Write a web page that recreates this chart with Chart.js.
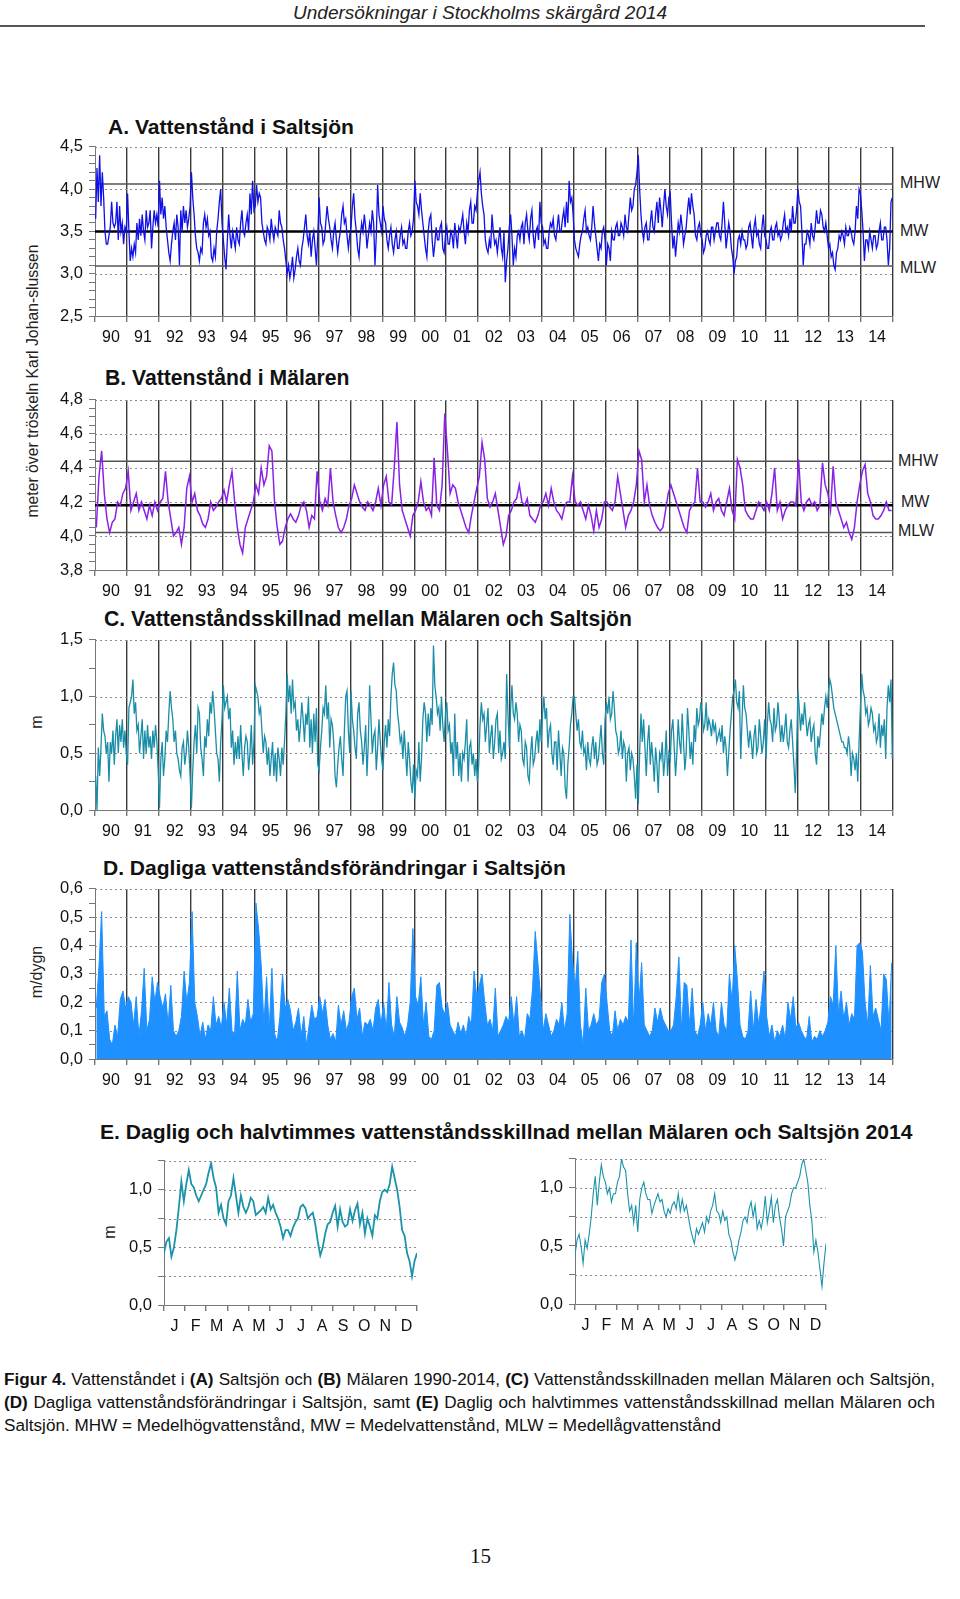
<!DOCTYPE html>
<html>
<head>
<meta charset="utf-8">
<script src="https://cdn.jsdelivr.net/npm/chart.js@4.4.1/dist/chart.umd.min.js"></script>
<style>
  body { margin: 0; background: #fff; width: 960px; height: 1599px; position: relative; overflow: hidden;
         font-family: "Liberation Sans", Arial, sans-serif; color: #111; }
  canvas { position: absolute; left: 0; }
  .t { position: absolute; white-space: nowrap; transform: translateY(-50%); line-height: 1; }
  .title { font-weight: bold; font-size: 21px; }
  .ref { font-size: 16px; color: #222; }
  .rot { position: absolute; white-space: nowrap; font-size: 16px; color: #222; line-height: 1;
         transform: translate(-50%, -50%) rotate(-90deg); }
  .cap { position: absolute; left: 4px; font-size: 16px; line-height: 1; white-space: nowrap; }
</style>
</head>
<body>

<div class="t" id="hdr" style="left:0;top:13px;font-style:italic;font-size:17px;color:#222;">Undersökningar i Stockholms skärgård 2014</div>
<div style="position:absolute;left:0;top:25px;width:925px;height:2px;background:#555;"></div>

<div class="t title" id="tA" style="left:108px;top:127px;">A. Vattenstånd i Saltsjön</div>
<div class="t title" id="tB" style="left:105px;top:378px;">B. Vattenstånd i Mälaren</div>
<div class="t title" id="tC" style="left:104px;top:619px;">C. Vattenståndsskillnad mellan Mälaren och Saltsjön</div>
<div class="t title" id="tD" style="left:103px;top:868px;">D. Dagliga vattenståndsförändringar i Saltsjön</div>
<div class="t title" id="tE" style="left:100px;top:1132px;">E. Daglig och halvtimmes vattenståndsskillnad mellan Mälaren och Saltsjön 2014</div>

<div class="rot" id="yAB" style="left:33px;top:381px;">meter över tröskeln Karl Johan-slussen</div>
<div class="rot" style="left:37px;top:722px;">m</div>
<div class="rot" style="left:37px;top:972px;">m/dygn</div>
<div class="rot" style="left:110px;top:1232px;">m</div>

<div class="t ref" style="left:900px;top:183px;">MHW</div>
<div class="t ref" style="left:900px;top:231px;">MW</div>
<div class="t ref" style="left:900px;top:268px;">MLW</div>
<div class="t ref" style="left:898px;top:461px;">MHW</div>
<div class="t ref" style="left:901px;top:502px;">MW</div>
<div class="t ref" style="left:898px;top:531px;">MLW</div>

<canvas id="cA"></canvas>
<canvas id="cB"></canvas>
<canvas id="cC"></canvas>
<canvas id="cD"></canvas>
<canvas id="cE1"></canvas>
<canvas id="cE2"></canvas>

<div class="cap" id="cap1" style="top:1371px;"><span><b>Figur 4.</b> Vattenståndet i <b>(A)</b> Saltsjön och <b>(B)</b> Mälaren 1990-2014, <b>(C)</b> Vattenståndsskillnaden mellan Mälaren och Saltsjön,</span></div>
<div class="cap" id="cap2" style="top:1394px;"><span><b>(D)</b> Dagliga vattenståndsförändringar i Saltsjön, samt <b>(E)</b> Daglig och halvtimmes vattenståndsskillnad mellan Mälaren och</span></div>
<div class="cap" id="cap3" style="top:1417px;"><span>Saltsjön. MHW = Medelhögvattenstånd, MW = Medelvattenstånd, MLW = Medellågvattenstånd</span></div>

<div class="t" style="left:470px;top:1556px;font-family:'Liberation Serif',serif;font-size:21px;">15</div>

<script>
// ---- data ----
const yearLabels = ['90','91','92','93','94','95','96','97','98','99','00','01','02','03','04','05','06','07','08','09','10','11','12','13','14'];
const monthLabels = ['J','F','M','A','M','J','J','A','S','O','N','D'];

// A. Vattenstånd i Saltsjön (m), two values per month
const saltsjon = [
  3.65, 4.25, 3.85, 4.4, 3.8, 4.2, 3.9, 3.5, 3.35, 3.35, 3.45, 3.55, 3.85, 3.6, 3.55, 3.6, 3.85, 3.4, 3.8, 3.5, 3.6, 3.35, 3.55, 3.5,
  3.95, 3.5, 3.15, 3.3, 3.2, 3.35, 3.25, 3.6, 3.4, 3.65, 3.45, 3.7, 3.5, 3.4, 3.75, 3.55, 3.6, 3.75, 3.3, 3.55, 3.75, 3.6, 3.7, 3.55,
  4.1, 3.7, 3.9, 3.65, 3.8, 3.55, 3.4, 3.25, 3.15, 3.35, 3.5, 3.6, 3.4, 3.7, 3.55, 3.1, 3.75, 3.5, 3.8, 3.6, 3.75, 3.55, 3.65, 3.8,
  4.2, 3.9, 3.7, 3.45, 3.3, 3.25, 3.15, 3.3, 3.25, 3.6, 3.7, 3.55, 3.65, 3.45, 3.5, 3.2, 3.15, 3.3, 3.2, 3.5, 3.65, 3.85, 4.0, 3.6,
  3.4, 3.2, 3.05, 3.4, 3.7, 3.45, 3.3, 3.5, 3.4, 3.3, 3.55, 3.4, 3.35, 3.6, 3.75, 3.5, 3.45, 3.6, 3.7, 3.5, 3.95, 3.7, 4.1, 3.75,
  3.8, 4.05, 3.85, 3.95, 3.9, 3.6, 3.5, 3.4, 3.35, 3.55, 3.5, 3.4, 3.65, 3.5, 3.4, 3.55, 3.5, 3.45, 3.75, 3.6, 3.55, 3.4, 3.3, 3.15,
  3.0, 3.1, 2.95, 3.05, 3.2, 2.95, 3.05, 3.2, 3.3, 3.15, 3.1, 3.3, 3.4, 3.55, 3.7, 3.45, 3.35, 3.5, 3.2, 3.4, 3.5, 3.3, 3.1, 3.45,
  3.9, 3.6, 3.55, 3.35, 3.4, 3.6, 3.8, 3.65, 3.55, 3.4, 3.3, 3.5, 3.6, 3.4, 3.25, 3.4, 3.5, 3.7, 3.8, 3.6, 3.65, 3.45, 3.3, 3.45,
  3.55, 3.8, 3.95, 3.65, 3.5, 3.3, 3.2, 3.45, 3.6, 3.5, 3.7, 3.55, 3.3, 3.45, 3.6, 3.5, 3.75, 3.6, 3.1, 3.45, 4.05, 3.7, 3.6, 3.5,
  3.8, 3.65, 3.6, 3.4, 3.3, 3.45, 3.55, 3.35, 3.25, 3.4, 3.5, 3.3, 3.3, 3.45, 3.55, 3.35, 3.4, 3.3, 3.3, 3.5, 3.6, 3.45, 3.5, 3.65,
  4.1, 3.85, 3.8, 3.7, 3.95, 3.75, 3.6, 3.45, 3.3, 3.2, 3.5, 3.65, 3.7, 3.4, 3.2, 3.35, 3.55, 3.4, 3.4, 3.55, 3.6, 3.3, 3.25, 3.45,
  3.55, 3.35, 3.35, 3.5, 3.45, 3.3, 3.6, 3.45, 3.3, 3.55, 3.5, 3.6, 3.7, 3.5, 3.35, 3.6, 3.5, 3.75, 3.85, 3.6, 3.6, 3.8, 3.75, 3.95,
  4.1, 4.2, 3.95, 3.8, 3.7, 3.4, 3.3, 3.25, 3.4, 3.3, 3.7, 3.5, 3.35, 3.4, 3.25, 3.4, 3.55, 3.3, 3.2, 3.5, 2.9, 3.15, 3.3, 3.55,
  3.7, 3.45, 3.1, 3.3, 3.2, 3.45, 3.5, 3.4, 3.55, 3.6, 3.35, 3.6, 3.7, 3.5, 3.4, 3.65, 3.75, 3.45, 3.3, 3.5, 3.55, 3.4, 3.85, 3.6,
  3.55, 3.35, 3.4, 3.3, 3.3, 3.5, 3.6, 3.55, 3.65, 3.45, 3.4, 3.55, 3.7, 3.5, 3.5, 3.65, 3.75, 3.55, 3.85, 3.6, 4.1, 3.85, 3.9, 3.7,
  3.4, 3.3, 3.25, 3.2, 3.35, 3.45, 3.5, 3.65, 3.75, 3.5, 3.55, 3.45, 3.4, 3.55, 3.8, 3.6, 3.45, 3.3, 3.15, 3.35, 3.3, 3.5, 3.55, 3.4,
  3.1, 3.35, 3.3, 3.15, 3.5, 3.4, 3.4, 3.55, 3.6, 3.45, 3.45, 3.6, 3.55, 3.45, 3.7, 3.55, 3.5, 3.7, 3.9, 3.75, 3.8, 4.0, 4.05, 4.2,
  4.4, 4.0, 3.7, 3.5, 3.4, 3.55, 3.6, 3.4, 3.4, 3.6, 3.75, 3.55, 3.5, 3.7, 3.85, 3.6, 3.9, 3.75, 3.55, 3.8, 4.0, 3.8, 3.7, 3.9,
  3.95, 3.6, 3.3, 3.45, 3.2, 3.4, 3.6, 3.5, 3.7, 3.55, 3.35, 3.45, 3.55, 3.75, 3.9, 3.7, 3.95, 3.8, 3.7, 3.45, 3.4, 3.55, 3.6, 3.45,
  3.4, 3.25, 3.3, 3.45, 3.5, 3.4, 3.35, 3.55, 3.55, 3.4, 3.5, 3.6, 3.6, 3.45, 3.4, 3.6, 3.85, 3.6, 3.3, 3.45, 3.6, 3.5, 3.3, 3.2,
  3.0, 3.15, 3.2, 3.4, 3.45, 3.35, 3.5, 3.4, 3.4, 3.3, 3.35, 3.55, 3.6, 3.45, 3.3, 3.55, 3.65, 3.45, 3.5, 3.35, 3.3, 3.55, 3.7, 3.45,
  3.4, 3.3, 3.3, 3.5, 3.55, 3.4, 3.4, 3.55, 3.6, 3.45, 3.5, 3.4, 3.45, 3.6, 3.7, 3.5, 3.55, 3.45, 3.65, 3.5, 3.8, 3.6, 3.6, 3.75,
  4.0, 3.85, 3.8, 3.5, 3.1, 3.35, 3.35, 3.5, 3.45, 3.35, 3.6, 3.45, 3.4, 3.55, 3.75, 3.6, 3.6, 3.75, 3.7, 3.55, 3.5, 3.6, 3.45, 3.3,
  3.35, 3.2, 3.25, 3.1, 3.05, 3.25, 3.3, 3.45, 3.4, 3.5, 3.45, 3.35, 3.55, 3.45, 3.45, 3.55, 3.5, 3.4, 3.35, 3.5, 3.8, 3.65, 4.0, 3.95,
  3.75, 3.5, 3.15, 3.4, 3.4, 3.3, 3.5, 3.4, 3.3, 3.45, 3.45, 3.3, 3.35, 3.5, 3.6, 3.4, 3.4, 3.55, 3.55, 3.4, 3.1, 3.3, 3.85, 3.9
];
const saltsjonRefs = [4.06, 3.5, 3.09];   // MHW, MW, MLW

// B. Vattenstånd i Mälaren (m), one value per month
const malaren = [
  4.05, 4.35, 4.5, 4.25, 4.1, 4.02, 4.08, 4.1, 4.2, 4.18, 4.25, 4.28,
  4.38, 4.15, 4.2, 4.25, 4.15, 4.2, 4.15, 4.1, 4.18, 4.12, 4.2, 4.15,
  4.2, 4.22, 4.38, 4.2, 4.1, 4.0, 4.02, 4.05, 3.95, 4.05, 4.28, 4.35,
  4.2, 4.25, 4.15, 4.12, 4.07, 4.05, 4.1, 4.2, 4.15, 4.17, 4.2, 4.22,
  4.27, 4.2, 4.3, 4.38, 4.2, 4.05, 3.95, 3.9, 4.05, 4.1, 4.15, 4.2,
  4.3, 4.25, 4.4, 4.3, 4.35, 4.53, 4.5, 4.2, 4.05, 3.95, 3.97, 4.05,
  4.1, 4.13, 4.1, 4.08, 4.12, 4.18, 4.2, 4.15, 4.05, 4.12, 4.1, 4.38,
  4.2, 4.15, 4.22, 4.18, 4.4, 4.2, 4.12, 4.05, 4.02, 4.05, 4.1, 4.18,
  4.22, 4.3, 4.25, 4.2, 4.17, 4.15, 4.2, 4.18, 4.15, 4.2, 4.28, 4.18,
  4.3, 4.35, 4.2, 4.18, 4.4, 4.67, 4.3, 4.15, 4.1, 4.05, 4.0, 4.12,
  4.15, 4.2, 4.32, 4.2, 4.15, 4.17, 4.12, 4.46, 4.18, 4.15, 4.3, 4.72,
  4.5, 4.25, 4.3, 4.28, 4.2, 4.15, 4.1, 4.05, 4.02, 4.12, 4.2, 4.28,
  4.35, 4.55, 4.45, 4.22, 4.17, 4.2, 4.25, 4.15, 4.05, 3.95, 4.0, 4.12,
  4.15, 4.2, 4.22, 4.3, 4.2, 4.18, 4.22, 4.12, 4.1, 4.08, 4.12, 4.18,
  4.2, 4.25, 4.18, 4.28, 4.2, 4.15, 4.13, 4.1, 4.17, 4.2, 4.2, 4.35,
  4.2, 4.18, 4.2, 4.15, 4.1, 4.18, 4.12, 4.03, 4.15, 4.05, 4.1, 4.2,
  4.2, 4.17, 4.15, 4.2, 4.35, 4.25, 4.15, 4.05, 4.12, 4.15, 4.2, 4.3,
  4.5, 4.45, 4.2, 4.3, 4.18, 4.12, 4.08, 4.05, 4.03, 4.05, 4.15, 4.25,
  4.3, 4.25, 4.2, 4.15, 4.1, 4.05, 4.02, 4.15, 4.18, 4.2, 4.4, 4.2,
  4.2, 4.17, 4.2, 4.25, 4.15, 4.2, 4.22, 4.15, 4.12, 4.2, 4.28, 4.15,
  4.1, 4.45, 4.4, 4.3, 4.15, 4.12, 4.1, 4.1, 4.15, 4.2, 4.18, 4.15,
  4.2, 4.15, 4.25, 4.4, 4.15, 4.2, 4.1, 4.15, 4.18, 4.2, 4.2, 4.18,
  4.45, 4.2, 4.15, 4.2, 4.22, 4.18, 4.2, 4.15, 4.18, 4.43, 4.3, 4.25,
  4.15, 4.41, 4.2, 4.15, 4.1, 4.05, 4.08, 4.02, 3.98, 4.05, 4.2, 4.3,
  4.38, 4.42, 4.25, 4.2, 4.12, 4.1, 4.1, 4.12, 4.15, 4.2, 4.15, 4.15
];
const malarenRefs = [4.44, 4.18, 4.02];

// C. Vattenståndsskillnad mellan Mälaren och Saltsjön (m), two values per month
const skillnad = [
  0.3, 0.0, 0.55, 0.3, 0.55, 0.85, 0.7, 0.65, 0.5, 0.6, 0.25, 0.6, 0.5, 0.7, 0.4, 0.65, 0.8, 0.5, 0.75, 0.6, 0.8, 0.55, 0.7, 0.5,
  0.4, 0.9, 0.95, 1.0, 1.15, 0.85, 0.95, 0.7, 0.75, 0.5, 0.65, 0.8, 0.45, 0.7, 0.5, 0.75, 0.55, 0.65, 0.45, 0.7, 0.55, 0.75, 0.6, 0.35,
  0.02, 0.45, 0.6, 0.3, 0.45, 0.7, 0.6, 0.85, 1.05, 0.9, 0.8, 0.6, 0.7, 0.5, 0.45, 0.35, 0.3, 0.55, 0.6, 0.4, 0.5, 0.7, 0.55, 0.3,
  0.02, 0.35, 0.6, 0.75, 0.5, 0.9, 0.85, 0.55, 0.45, 0.3, 0.65, 0.55, 0.8, 0.65, 0.95, 0.85, 1.05, 0.9, 0.7, 0.5, 0.45, 0.25, 0.6, 0.8,
  1.1, 0.9, 0.95, 1.0, 0.8, 0.9, 0.55, 0.7, 0.4, 0.6, 0.45, 0.65, 0.45, 0.75, 0.5, 0.3, 0.55, 0.65, 0.6, 0.35, 0.5, 0.75, 0.4, 0.6,
  1.1, 1.05, 1.0, 0.85, 0.9, 0.7, 0.5, 0.65, 0.6, 0.4, 0.55, 0.3, 0.45, 0.6, 0.3, 0.5, 0.25, 0.55, 0.45, 0.3, 0.55, 0.4, 0.6, 0.85,
  1.2, 0.95, 1.1, 0.85, 1.15, 0.9, 0.95, 0.7, 0.8, 0.6, 0.75, 0.95, 0.8, 0.6, 0.85, 0.75, 1.0, 0.55, 0.8, 0.5, 0.85, 0.6, 0.9, 0.4,
  0.35, 0.55, 0.7, 0.9, 0.85, 1.1, 0.8, 0.95, 0.55, 0.8, 0.75, 0.6, 0.3, 0.2, 0.4, 0.55, 0.65, 0.45, 0.3, 0.7, 1.0, 1.05, 0.7, 0.5,
  1.05, 0.8, 0.7, 0.55, 0.45, 0.85, 0.95, 0.7, 0.6, 0.4, 0.55, 0.75, 0.3, 0.6, 1.1, 0.8, 0.5, 0.65, 0.7, 0.35, 0.55, 0.8, 0.6, 0.45,
  0.35, 0.6, 0.75, 0.55, 0.8, 0.65, 1.0, 1.2, 1.3, 1.1, 1.05, 0.85, 0.75, 0.6, 0.65, 0.45, 0.7, 0.5, 0.3, 0.6, 0.45, 0.25, 0.15, 0.4,
  0.1, 0.35, 0.3, 0.6, 0.25, 0.45, 0.8, 0.95, 0.85, 0.6, 0.85, 0.65, 0.9, 0.75, 1.45, 1.1, 1.0, 0.85, 0.9, 0.7, 1.0, 0.75, 0.6, 0.85,
  0.95, 0.7, 0.75, 0.5, 0.6, 0.3, 0.85, 0.45, 0.6, 0.3, 0.5, 0.25, 0.5, 0.45, 0.6, 0.8, 0.25, 0.55, 0.6, 0.4, 0.5, 0.3, 0.45, 0.25,
  0.4, 0.75, 0.95, 0.8, 0.85, 0.6, 0.75, 0.9, 0.5, 0.65, 0.75, 0.45, 0.6, 0.8, 0.85, 0.5, 0.7, 0.45, 0.5, 0.6, 0.45, 1.2, 0.85, 0.55,
  0.9, 1.1, 0.85, 0.8, 0.95, 0.85, 0.6, 0.75, 0.7, 0.45, 0.4, 0.6, 0.55, 0.3, 0.25, 0.5, 0.65, 0.4, 0.45, 0.6, 0.7, 0.5, 0.8, 0.6,
  0.85, 1.0, 0.8, 0.9, 0.55, 0.7, 0.75, 0.5, 0.4, 0.6, 0.6, 0.35, 0.7, 0.5, 0.3, 0.55, 0.5, 0.2, 0.1, 0.4, 0.55, 0.75, 0.85, 1.0,
  1.0, 0.85, 0.7, 0.8, 0.6, 0.55, 0.7, 0.5, 0.55, 0.35, 0.6, 0.45, 0.4, 0.55, 0.65, 0.45, 0.6, 0.4, 0.45, 0.6, 0.75, 0.5, 0.4, 0.8,
  0.95, 0.85, 1.0, 0.8, 0.85, 1.05, 0.9, 0.7, 0.65, 0.5, 0.55, 0.7, 0.45, 0.6, 0.55, 0.25, 0.5, 0.55, 0.35, 0.5, 0.45, 0.3, 0.1, 0.4,
  0.05, 0.5, 0.85, 0.6, 0.8, 0.55, 0.3, 0.6, 0.75, 0.4, 0.6, 0.45, 0.25, 0.55, 0.4, 0.15, 0.5, 0.45, 0.6, 0.3, 0.45, 0.7, 0.3, 0.5,
  0.45, 0.7, 0.8, 0.55, 0.3, 0.5, 0.8, 0.6, 0.5, 0.85, 0.6, 0.35, 0.5, 0.9, 0.7, 0.45, 0.6, 0.4, 0.75, 0.6, 0.9, 0.75, 0.8, 0.95,
  0.85, 0.7, 0.75, 0.95, 0.7, 0.8, 0.75, 0.65, 0.8, 0.7, 0.75, 0.6, 0.65, 0.7, 0.6, 0.75, 0.5, 0.65, 0.55, 0.3, 0.5, 0.7, 0.85, 1.0,
  1.05, 1.15, 0.95, 0.9, 1.05, 0.45, 0.8, 1.1, 0.9, 0.85, 0.7, 0.55, 0.7, 0.6, 0.45, 0.65, 0.75, 0.5, 0.55, 0.8, 0.65, 0.5, 0.6, 0.8,
  0.45, 0.75, 0.95, 0.8, 0.75, 0.6, 0.9, 0.7, 0.75, 0.95, 0.8, 0.6, 0.75, 0.6, 0.7, 0.85, 0.6, 0.55, 0.7, 0.8, 0.6, 0.4, 0.15, 0.5,
  1.05, 0.9, 0.7, 0.85, 0.75, 0.95, 0.8, 0.65, 0.75, 0.8, 0.6, 0.7, 0.75, 0.5, 0.4, 0.65, 0.55, 0.7, 0.85, 0.75, 0.9, 1.0, 0.9, 1.05,
  1.15, 1.1, 1.0, 0.9, 0.85, 0.8, 0.75, 0.7, 0.65, 0.6, 0.6, 0.55, 0.55, 0.5, 0.65, 0.55, 0.3, 0.5, 0.45, 0.35, 0.5, 0.25, 0.6, 0.9,
  1.2, 1.05, 1.0, 0.85, 0.9, 0.75, 0.8, 0.9, 0.85, 0.7, 0.75, 0.6, 0.65, 0.85, 0.55, 0.75, 0.65, 0.8, 0.45, 0.9, 1.1, 0.95, 1.15, 0.45
];

// D. Dagliga vattenståndsförändringar i Saltsjön (m/dygn), one value per month
const dagligFor = [
  0.18, 0.33, 0.52, 0.15, 0.17, 0.07, 0.05, 0.12, 0.08, 0.21, 0.24, 0.18,
  0.22, 0.2, 0.12, 0.22, 0.08, 0.17, 0.32, 0.1, 0.14, 0.29, 0.2, 0.27,
  0.22, 0.18, 0.23, 0.12, 0.26, 0.1, 0.08, 0.1, 0.15, 0.31, 0.2, 0.27,
  0.52, 0.2, 0.15, 0.08, 0.13, 0.07, 0.12, 0.1, 0.22, 0.12, 0.15, 0.11,
  0.2, 0.12, 0.25, 0.1, 0.09, 0.31, 0.1, 0.14, 0.12, 0.21, 0.13, 0.16,
  0.55, 0.46, 0.33, 0.12, 0.29, 0.1, 0.32, 0.09, 0.06, 0.15, 0.3, 0.18,
  0.21, 0.17, 0.1, 0.13, 0.18, 0.08, 0.15, 0.05, 0.12, 0.19, 0.14, 0.15,
  0.22, 0.16, 0.21, 0.12, 0.07, 0.09, 0.06, 0.19, 0.12, 0.17, 0.1, 0.13,
  0.22, 0.25, 0.14, 0.18, 0.08, 0.13, 0.12, 0.14, 0.1, 0.18, 0.21, 0.12,
  0.2, 0.1, 0.27, 0.12, 0.08, 0.22, 0.13, 0.11, 0.08, 0.12, 0.2, 0.46,
  0.22, 0.19, 0.29, 0.12, 0.2, 0.08, 0.07, 0.1, 0.26, 0.27, 0.18, 0.16,
  0.2, 0.12, 0.1, 0.08, 0.13, 0.09, 0.12, 0.08, 0.15, 0.12, 0.31, 0.22,
  0.26, 0.3, 0.2, 0.12, 0.14, 0.1, 0.25, 0.08, 0.1, 0.12, 0.15, 0.13,
  0.22, 0.12, 0.22, 0.08, 0.1, 0.07, 0.16, 0.14, 0.25, 0.45, 0.34, 0.22,
  0.1, 0.16, 0.12, 0.08, 0.1, 0.14, 0.12, 0.2, 0.1, 0.16, 0.51, 0.35,
  0.25, 0.38, 0.12, 0.05, 0.25, 0.1, 0.12, 0.16, 0.12, 0.14, 0.27, 0.3,
  0.2, 0.1, 0.08, 0.17, 0.1, 0.14, 0.12, 0.15, 0.13, 0.42, 0.11, 0.41,
  0.2, 0.34, 0.12, 0.1, 0.08, 0.1, 0.18, 0.13, 0.18, 0.14, 0.12, 0.1,
  0.1, 0.12, 0.22, 0.36, 0.1, 0.27, 0.26, 0.12, 0.25, 0.1, 0.08, 0.12,
  0.2, 0.1, 0.16, 0.12, 0.2, 0.1, 0.08, 0.2, 0.12, 0.1, 0.3, 0.2,
  0.4, 0.28, 0.12, 0.08, 0.07, 0.1, 0.24, 0.1, 0.21, 0.12, 0.2, 0.31,
  0.15, 0.08, 0.12, 0.06, 0.1, 0.08, 0.12, 0.07, 0.2, 0.14, 0.22, 0.11,
  0.13, 0.1, 0.08, 0.07, 0.15, 0.06, 0.08, 0.07, 0.1, 0.08, 0.1, 0.13,
  0.22, 0.19, 0.4, 0.16, 0.24, 0.14, 0.2, 0.12, 0.16, 0.14, 0.4, 0.41,
  0.38, 0.2, 0.12, 0.33, 0.15, 0.18, 0.14, 0.1, 0.3, 0.28, 0.12, 0.34
];

// E. 2014, daglig (left) and halvtimmes (right) skillnad (m), evenly spread over the year
const daglig2014 = [
  0.45, 0.55, 0.58, 0.42, 0.5, 0.65, 0.85, 1.07, 0.9, 1.05, 1.17, 1.05, 1.02, 0.95, 0.9, 0.95, 1.0, 1.05, 1.15, 1.23,
  1.1, 1.02, 0.8, 0.87, 0.75, 0.7, 0.9, 0.95, 1.1, 0.95, 0.8, 0.95, 0.85, 0.8, 0.85, 0.93, 0.9, 0.78, 0.8, 0.82,
  0.85, 0.8, 0.93, 0.83, 0.87, 0.8, 0.75, 0.68, 0.58, 0.65, 0.65, 0.6, 0.67, 0.72, 0.75, 0.85, 0.87, 0.84, 0.75, 0.78,
  0.8, 0.7, 0.55, 0.43, 0.5, 0.62, 0.7, 0.72, 0.8, 0.86, 0.68, 0.83, 0.72, 0.68, 0.7, 0.83, 0.73, 0.82, 0.88, 0.7,
  0.8, 0.62, 0.75, 0.68, 0.6, 0.78, 0.75, 0.9, 0.98, 1.0, 0.98, 1.05, 1.2, 1.1, 1.0, 0.85, 0.65, 0.6, 0.45, 0.38,
  0.25, 0.38, 0.45
];
const halvtimme2014 = [
  0.42, 0.55, 0.6, 0.5, 0.35, 0.55, 0.48, 0.6, 0.75, 0.95, 1.1, 0.85, 1.05, 1.2, 1.1, 1.05, 0.95, 1.0, 0.88, 0.95,
  0.95, 1.05, 1.1, 1.25, 1.18, 1.15, 0.95, 0.8, 0.85, 0.7, 0.85, 0.62, 0.9, 1.0, 1.05, 0.95, 0.9, 0.9, 0.78, 0.85,
  0.9, 0.95, 0.88, 0.9, 0.8, 0.75, 0.82, 0.78, 0.85, 0.88, 0.82, 0.95, 0.8, 0.9, 0.8, 0.85, 0.75, 0.65, 0.58, 0.52,
  0.65, 0.6, 0.65, 0.7, 0.62, 0.75, 0.7, 0.8, 0.85, 0.95, 0.8, 0.78, 0.7, 0.8, 0.72, 0.75, 0.6, 0.55, 0.45, 0.38,
  0.45, 0.55, 0.62, 0.72, 0.75, 0.7, 0.82, 0.88, 0.75, 0.85, 0.65, 0.72, 0.65, 0.75, 0.93, 0.7, 0.8, 0.92, 0.7, 0.85,
  0.9, 0.75, 0.65, 0.5, 0.75, 0.8, 0.85, 0.95, 1.0, 1.0, 1.05, 1.1, 1.2, 1.25, 1.15, 1.05, 0.85, 0.72, 0.45, 0.55,
  0.45, 0.3, 0.15, 0.35, 0.52
];

// ---- helpers ----
const FONT = '"Liberation Sans", Arial, sans-serif';
// spread a series evenly over 1990-2015 (n values per year)
const overYears = arr => { const n = arr.length / 25; return arr.map((v, i) => ({ x: 1990 + (i + 0.5) / n, y: v })); };
const spread = arr => arr.map((v, i) => ({ x: i * 365 / (arr.length - 1), y: v }));

// dotted major gridlines + MHW/MW/MLW lines, drawn under the data
const panelLines = {
  id: 'panelLines',
  beforeDatasetsDraw(chart, args, opts) {
    const { ctx, chartArea: a, scales: { y } } = chart;
    ctx.save();
    ctx.setLineDash([2, 3]);
    ctx.strokeStyle = '#8c8c8c';
    ctx.lineWidth = 1;
    (opts.dotted || []).forEach(v => {
      const py = Math.round(y.getPixelForValue(v)) + 0.5;
      ctx.beginPath(); ctx.moveTo(a.left, py); ctx.lineTo(a.right, py); ctx.stroke();
    });
    ctx.setLineDash([]);
    (opts.refs || []).forEach((v, i) => {
      const py = y.getPixelForValue(v);
      ctx.strokeStyle = i === 1 ? '#000' : '#555';
      ctx.lineWidth = i === 1 ? 2.5 : 1.5;
      ctx.beginPath(); ctx.moveTo(a.left, py); ctx.lineTo(a.right, py); ctx.stroke();
    });
    ctx.restore();
  }
};

function makeChart(id, p) {
  const cv = document.getElementById(id);
  const padTop = 12, xh = 32;
  const w = p.right + p.padRight, h = p.bottom - p.top + padTop + xh;
  cv.width = w; cv.height = h;
  cv.style.width = w + 'px'; cv.style.height = h + 'px';
  cv.style.top = (p.top - padTop) + 'px';

  const yTicks = [];
  for (let k = 0; p.ymin + k * p.minor <= p.ymax + 1e-9; k++) yTicks.push(+(p.ymin + k * p.minor).toFixed(4));
  const isMajor = v => Math.abs(v / p.major - Math.round(v / p.major)) < 1e-6;

  return new Chart(cv, {
    type: 'line',
    data: { datasets: p.datasets },
    options: {
      responsive: false,
      animation: false,
      layout: { padding: { top: padTop, right: p.padRight, left: 0, bottom: 0 } },
      plugins: { legend: { display: false }, tooltip: { enabled: false },
                 panelLines: { dotted: p.dotted, refs: p.refs } },
      elements: { point: { radius: 0 }, line: { tension: 0 } },
      scales: {
        x: {
          type: 'category', labels: p.labels, offset: true,
          grid: { offset: true, drawOnChartArea: p.vLines, tickLength: 6, lineWidth: 1.4,
                  color: c => (p.vLines && c.index === 0) ? 'rgba(0,0,0,0)' : (p.vLines ? '#3a3a3a' : '#777'),
                  tickColor: '#777' },
          border: { color: '#777', width: 1 },
          ticks: { autoSkip: false, maxRotation: 0, padding: 6, color: '#111', font: { family: FONT, size: 16 } },
          afterFit: s => { s.height = xh; }
        },
        xt: { type: 'linear', display: false, min: p.xmin, max: p.xmax },
        y: {
          min: p.ymin, max: p.ymax,
          afterBuildTicks: s => { s.ticks = yTicks.map(v => ({ value: v })); },
          afterFit: s => { s.width = p.left; },
          grid: { drawOnChartArea: false, tickLength: 6, tickColor: '#777' },
          border: { color: '#777', width: 1 },
          ticks: { autoSkip: false, padding: 6, color: '#111', font: { family: FONT, size: 16.5 },
                   callback: v => isMajor(v) ? v.toFixed(1).replace('.', ',') : '' }
        }
      }
    },
    plugins: [panelLines]
  });
}

const wide = { left: 95, right: 893, padRight: 67, labels: yearLabels, xmin: 1990, xmax: 2015, vLines: true };

makeChart('cA', Object.assign({}, wide, {
  top: 143, bottom: 316, ymin: 2.5, ymax: 4.5, minor: 0.1, major: 0.5,
  dotted: [3.0, 3.5, 4.0, 4.5], refs: saltsjonRefs,
  datasets: [{ data: overYears(saltsjon), xAxisID: 'xt', borderColor: '#1010e8', borderWidth: 1.3 }]
}));

makeChart('cB', Object.assign({}, wide, {
  top: 396, bottom: 570, ymin: 3.8, ymax: 4.8, minor: 0.05, major: 0.2,
  dotted: [4.0, 4.2, 4.4, 4.6, 4.8], refs: malarenRefs,
  datasets: [{ data: overYears(malaren), xAxisID: 'xt', borderColor: '#8a22e6', borderWidth: 1.5 }]
}));

makeChart('cC', Object.assign({}, wide, {
  top: 636, bottom: 810, ymin: 0, ymax: 1.5, minor: 0.25, major: 0.5,
  dotted: [0.5, 1.0, 1.5],
  datasets: [{ data: overYears(skillnad), xAxisID: 'xt', borderColor: '#1a8ea8', borderWidth: 1.3 }]
}));

makeChart('cD', Object.assign({}, wide, {
  top: 885, bottom: 1059, ymin: 0, ymax: 0.6, minor: 0.05, major: 0.1,
  dotted: [0.1, 0.2, 0.3, 0.4, 0.5, 0.6],
  datasets: [{ data: overYears(dagligFor), xAxisID: 'xt', borderColor: '#1e90ff', borderWidth: 1,
               backgroundColor: '#1e90ff', fill: 'origin' }]
}));

const small = { labels: monthLabels, xmin: 0, xmax: 365, vLines: false, ymin: 0, ymax: 1.25, minor: 0.25, major: 0.5,
                dotted: [0.25, 0.5, 0.75, 1.0, 1.25] };

makeChart('cE1', Object.assign({}, small, {
  left: 164, right: 417, padRight: 20, top: 1157, bottom: 1305,
  datasets: [{ data: spread(daglig2014), xAxisID: 'xt', borderColor: '#1b93aa', borderWidth: 1.8 }]
}));

makeChart('cE2', Object.assign({}, small, {
  left: 575, right: 826, padRight: 20, top: 1155, bottom: 1304,
  datasets: [{ data: spread(halvtimme2014), xAxisID: 'xt', borderColor: '#1b93aa', borderWidth: 1.1 }]
}));

// ---- text fitting ----
function fitTo(el, target) {
  const fs = parseFloat(getComputedStyle(el).fontSize);
  el.style.fontSize = (fs * target / el.offsetWidth) + 'px';
}
fitTo(document.getElementById('tA'), 246);
fitTo(document.getElementById('tB'), 245);
fitTo(document.getElementById('tC'), 528);
fitTo(document.getElementById('tD'), 463);
fitTo(document.getElementById('tE'), 813);
fitTo(document.getElementById('yAB'), 273);
const hdr = document.getElementById('hdr');
fitTo(hdr, 375);
hdr.style.left = (480 - hdr.offsetWidth / 2) + 'px';

// caption: same size on all lines, first two justified to full width
const caps = ['cap1', 'cap2', 'cap3'].map(id => document.getElementById(id));
const widths = caps.map(c => c.firstElementChild.offsetWidth);
const size = 16 * Math.min(931 * 0.995 / widths[0], 931 * 0.995 / widths[1], 736 / widths[2]);
caps.forEach((c, i) => {
  c.style.fontSize = size + 'px';
  if (i < 2) { c.style.whiteSpace = 'normal'; c.style.width = '931px'; c.style.textAlign = 'justify'; c.style.textAlignLast = 'justify'; }
});
</script>
</body>
</html>
